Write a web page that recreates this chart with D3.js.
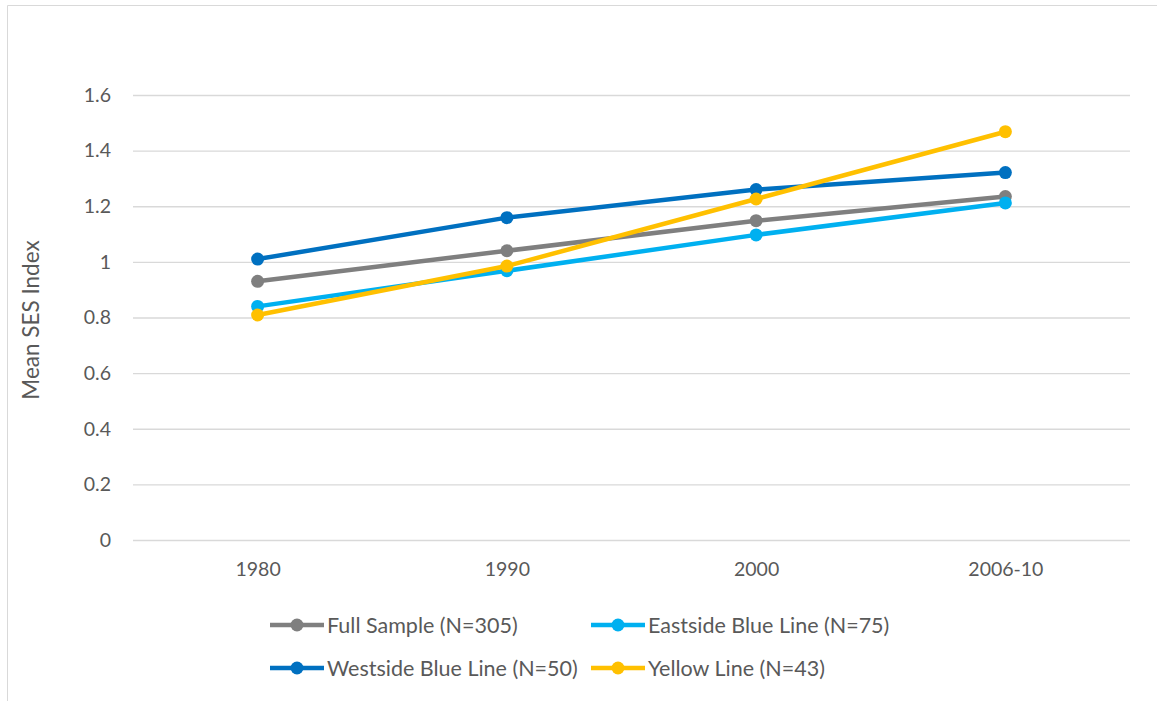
<!DOCTYPE html>
<html><head><meta charset="utf-8">
<script src="https://cdn.jsdelivr.net/npm/d3@7"></script>
<style>body{margin:0;background:#fff}svg{display:block}</style>
</head><body>
<svg id="c" width="1157" height="701"></svg>
<script>
const categories = ["1980","1990","2000","2006-10"];
const yTicks = [0,0.2,0.4,0.6,0.8,1,1.2,1.4,1.6];
const seriesNames = ["Full Sample (N=305)","Eastside Blue Line (N=75)","Westside Blue Line (N=50)","Yellow Line (N=43)"];
const fullSample = [0.93,1.04,1.148,1.235];
const eastside = [0.84,0.968,1.097,1.212];
const westside = [1.01,1.159,1.26,1.321];
const yellow = [0.809,0.985,1.226,1.468];
const colors = ["#7f7f7f","#00b0f0","#0070c0","#ffc000"];
const seriesValues = [fullSample, eastside, westside, yellow];
const drawOrder = [0,1,2,3];

const svg = d3.select("#c");
const font = "Lato, 'Open Sans', sans-serif";
const pLeft=133,pRight=1130,pTop=95,pBottom=540;

// chart border (top and left visible)
svg.append("line").attr("x1",7.5).attr("x2",1157).attr("y1",5.5).attr("y2",5.5).attr("stroke","#d9d9d9").attr("stroke-width",1);
svg.append("line").attr("x1",7.5).attr("x2",7.5).attr("y1",5.5).attr("y2",701).attr("stroke","#d9d9d9").attr("stroke-width",1);

const x = d3.scalePoint().domain(categories).range([pLeft,pRight]).padding(0.5);
const y = d3.scaleLinear().domain([0,1.6]).range([pBottom,pTop]);

const yAxis = svg.append("g").attr("transform",`translate(${pLeft},0)`)
  .call(d3.axisLeft(y).tickValues(yTicks).tickSize(-(pRight-pLeft)).tickPadding(22).tickFormat(d=>d3.format("")(+d.toFixed(1))));
yAxis.select(".domain").remove();
yAxis.selectAll(".tick line").attr("stroke","#d9d9d9").attr("stroke-width",1.3);
yAxis.selectAll(".tick text").attr("fill","#595959").style("font-family",font).style("font-size","19.5px");

const xAxis = svg.append("g").attr("transform",`translate(0,${pBottom})`)
  .call(d3.axisBottom(x).tickSize(0).tickPadding(22));
xAxis.select(".domain").remove();
xAxis.selectAll(".tick text").attr("fill","#595959").style("font-family",font).style("font-size","19.5px");

svg.append("text").attr("transform",`translate(39,320) rotate(-90)`).attr("text-anchor","middle")
  .attr("fill","#595959").style("font-family",font).style("font-size","22.5px").text("Mean SES Index");

const line = d3.line().x((d,i)=>x(categories[i])).y(d=>y(d));
drawOrder.forEach(s=>{
  const g = svg.append("g");
  g.append("path").datum(seriesValues[s]).attr("d",line).attr("fill","none")
    .attr("stroke",colors[s]).attr("stroke-width",4.5).attr("stroke-linejoin","round");
  g.selectAll("circle").data(seriesValues[s]).join("circle")
    .attr("cx",(d,i)=>x(categories[i])).attr("cy",d=>y(d)).attr("r",6.5).attr("fill",colors[s]);
});

// legend
const legPos = [[270,625],[591,625],[270,668],[591,668]];
seriesNames.forEach((n,i)=>{
  const [lx,ly] = legPos[i];
  const g = svg.append("g").attr("transform",`translate(${lx},${ly})`);
  g.append("line").attr("x1",0).attr("x2",54).attr("y1",0).attr("y2",0).attr("stroke",colors[i]).attr("stroke-width",4.5);
  g.append("circle").attr("cx",27).attr("cy",0).attr("r",6.5).attr("fill",colors[i]);
  g.append("text").attr("x",57).attr("y",0).attr("dy","0.35em").attr("fill","#595959")
    .style("font-family",font).style("font-size","21.5px").text(n);
});
</script>
</body></html>
